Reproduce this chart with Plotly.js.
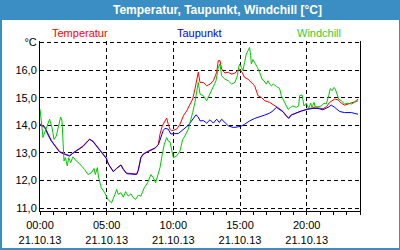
<!DOCTYPE html>
<html><head><meta charset="utf-8">
<script src="https://cdn.plot.ly/plotly-3.0.1.min.js"></script>
<style>html,body{margin:0;padding:0;background:#fff;}#chart{width:400px;height:250px;}</style>
</head><body><div id="chart"></div>
<script>
// Temperatur (red)
var tTemp = [0.0,0.35,0.85,1.22,1.47,1.85,2.22,2.47,2.85,3.22,3.6,3.72,3.97,4.22,4.6,4.97,5.13,5.5,5.75,6.07,6.25,6.5,7.25,7.37,7.57,7.75,8.12,8.62,8.87,9.0,9.17,9.33,9.5,9.62,9.75,9.87,10.07,10.25,10.5,10.75,11.0,11.25,11.45,11.62,11.8,11.87,12.0,12.25,12.5,12.75,13.0,13.25,13.37,13.5,13.62,13.87,14.12,14.37,14.62,14.87,14.97,15.15,15.35,15.6,15.8,15.97,16.1,16.35,16.6,16.85,17.22,17.47,17.65,17.8,17.97,18.22,18.47,18.65,18.85,19.22,19.6,20.1,20.47,20.7,20.85,21.22,21.5,21.72,22.1,22.35,22.6,22.85,23.1,23.35,23.6,23.85];
var vTemp = [14.05,13.95,13.45,13.2,13.05,12.97,12.9,13.0,13.12,13.25,13.45,13.5,13.43,13.28,13.04,12.82,12.6,12.33,12.45,12.57,12.42,12.27,12.24,12.38,12.85,12.97,13.07,13.18,13.3,13.68,13.98,14.1,14.26,14.04,13.86,13.8,13.82,13.86,14.04,14.34,14.52,14.77,14.95,15.31,15.79,15.92,15.55,15.55,15.43,15.49,15.61,15.92,16.34,16.34,16.04,15.89,15.92,15.85,15.89,16.01,16.04,15.92,15.73,15.67,15.55,15.49,15.43,15.07,15.01,14.89,14.83,14.74,14.7,14.65,14.6,14.5,14.35,14.26,14.38,14.45,14.53,14.6,14.63,14.67,14.63,14.6,14.68,14.83,14.95,14.92,14.8,14.73,14.77,14.8,14.85,14.95];
// Taupunkt (blue)
var tDew = [0.0,0.35,0.6,0.85,1.22,1.47,1.85,2.22,2.47,2.85,3.22,3.6,3.72,3.97,4.22,4.6,4.97,5.13,5.5,5.75,6.07,6.25,6.5,7.25,7.37,7.57,7.75,8.12,8.62,8.87,9.07,9.25,9.37,9.62,9.82,10.0,10.37,10.75,11.12,11.37,11.7,11.87,12.0,12.25,12.5,12.75,13.0,13.25,13.45,13.62,13.87,14.12,14.5,14.87,15.05,15.35,15.72,16.1,16.47,16.85,17.22,17.47,17.72,17.97,18.22,18.47,18.65,18.85,19.22,19.6,20.1,20.47,20.85,21.22,21.6,21.85,22.1,22.47,22.85,23.35,23.85];
var vDew = [14.02,13.92,13.65,13.43,13.19,13.03,12.95,12.89,12.99,13.11,13.23,13.43,13.49,13.41,13.25,13.01,12.8,12.6,12.32,12.44,12.56,12.4,12.25,12.22,12.37,12.83,12.95,13.05,13.17,13.29,13.56,13.82,13.89,13.86,13.68,13.7,13.7,13.86,14.0,14.16,14.38,14.3,14.16,14.17,14.08,14.2,14.08,14.22,14.1,14.22,14.08,13.98,13.92,13.94,13.96,14.04,14.16,14.25,14.3,14.37,14.44,14.52,14.65,14.58,14.49,14.34,14.25,14.37,14.44,14.52,14.58,14.61,14.61,14.56,14.65,14.73,14.65,14.5,14.46,14.46,14.4];
// Windchill (green)
var tWind = [0.0,0.05,0.15,0.22,0.4,0.55,0.72,0.9,1.05,1.22,1.4,1.55,1.65,1.72,1.8,1.9,2.05,2.15,2.3,2.47,2.72,2.97,3.35,3.6,3.85,4.05,4.15,4.3,4.4,4.6,4.85,5.12,5.37,5.62,5.75,5.87,6.07,6.25,6.42,6.62,6.82,7.0,7.17,7.37,7.57,7.82,8.07,8.32,8.5,8.67,8.82,9.0,9.17,9.32,9.5,9.62,9.75,9.87,10.0,10.25,10.5,10.7,10.87,11.12,11.3,11.45,11.62,11.75,11.87,12.0,12.25,12.5,12.62,12.87,13.0,13.2,13.37,13.5,13.62,13.87,14.12,14.37,14.62,14.8,14.9,14.97,15.1,15.22,15.35,15.47,15.6,15.72,15.8,15.85,15.97,16.1,16.3,16.47,16.65,16.8,16.97,17.1,17.22,17.35,17.5,17.72,17.97,18.1,18.3,18.47,18.6,18.8,18.97,19.22,19.4,19.47,19.65,19.8,19.97,20.15,20.3,20.4,20.55,20.65,20.85,21.1,21.3,21.47,21.65,21.77,21.9,22.05,22.15,22.3,22.4,22.6,22.85,23.1,23.35,23.6,23.85];
var vWind = [14.58,14.4,13.92,13.56,13.8,14.04,14.22,13.92,13.49,13.61,13.98,14.3,14.16,13.43,12.71,12.83,12.53,12.83,12.65,12.86,12.71,12.61,12.4,12.22,12.28,12.44,12.22,12.47,12.1,11.74,11.56,11.3,11.2,11.5,11.68,11.5,11.56,11.4,11.6,11.44,11.52,11.38,11.32,11.47,11.44,11.74,11.92,12.22,12.1,11.92,12.22,12.47,12.95,13.31,13.56,13.43,13.4,13.1,12.83,12.89,13.07,13.49,13.61,13.86,14.16,14.46,14.83,15.25,15.55,15.13,15.07,14.89,15.01,15.25,15.37,15.61,16.1,16.22,15.79,15.67,15.61,15.49,15.55,15.79,16.1,16.22,16.1,15.98,16.28,16.58,16.7,16.82,16.52,16.22,16.38,16.28,16.1,15.92,15.67,15.61,15.49,15.61,15.49,15.43,15.49,15.41,15.33,15.07,14.89,14.7,14.58,14.65,14.7,14.65,14.7,15.07,15.1,14.7,14.8,14.61,14.8,14.65,14.83,14.65,14.68,14.7,14.8,14.77,15.07,15.33,15.25,15.37,15.31,15.07,14.95,14.89,14.77,14.8,14.77,14.83,14.89];

var xTickVals = [0,5,10,15,20];
var xTickText = ['00:00<br>21.10.13','05:00<br>21.10.13','10:00<br>21.10.13','15:00<br>21.10.13','20:00<br>21.10.13'];
var yTickVals = [11,12,13,14,15,16,17];
var yTickText = ['11,0','12,0','13,0','14,0','15,0','16,0','°C'];
var seriesNames = ['Temperatur','Taupunkt','Windchill'];
var seriesColors = ['#ff0000','#0000ff','#00c800'];
var chartTitle = 'Temperatur, Taupunkt, Windchill [°C]';

var frameBlue = '#3b8ec4';
var FONT = 'Liberation Sans, Arial, sans-serif';

function line(t, v, i) {
  return {x: t, y: v, type: 'scatter', mode: 'lines', name: seriesNames[i],
          line: {color: seriesColors[i], width: 1}, hoverinfo: 'skip'};
}
var data = [line(tTemp, vTemp, 0), line(tDew, vDew, 1), line(tWind, vWind, 2)];

// pixel -> paper helpers (plot area 40..360 x, 41..211 y)
function px(X){ return (X-40)/320; }
function py(Y){ return (211-Y)/170; }

var layout = {
  width: 400, height: 250,
  margin: {l: 40, r: 40, t: 41, b: 39, pad: 0},
  paper_bgcolor: frameBlue,
  plot_bgcolor: '#ffffff',
  showlegend: false,
  font: {family: FONT, size: 11, color: '#000'},
  xaxis: {
    range: [0, 24], tickvals: xTickVals, ticktext: xTickText,
    showgrid: true, gridcolor: '#000', gridwidth: 1, griddash: '4px,3px',
    showline: true, linecolor: '#000', linewidth: 1, mirror: false,
    ticks: 'outside', ticklen: 3, tickcolor: '#000', ticklabelstandoff: 1,
    minor: {dtick: 1, tick0: 0, ticks: 'outside', ticklen: 3, tickcolor: '#000', showgrid: false},
    zeroline: false, fixedrange: true,
    tickfont: {family: FONT, size: 11, color: '#000'}
  },
  yaxis: {
    range: [10.9, 17.05], tickvals: yTickVals, ticktext: yTickText,
    showgrid: true, gridcolor: '#000', gridwidth: 1, griddash: '4px,3px',
    showline: true, linecolor: '#000', linewidth: 1, mirror: true,
    ticks: '', zeroline: false, fixedrange: true,
    tickfont: {family: FONT, size: 11, color: '#000'}
  },
  shapes: [
    {type: 'rect', xref: 'paper', yref: 'paper', layer: 'below',
     x0: px(2), x1: px(399), y0: py(248), y1: py(20),
     fillcolor: '#ffffff', line: {width: 0}}
  ],
  annotations: [
    {text: '<b>' + chartTitle + '</b>', xref: 'paper', yref: 'paper', x: px(217), y: py(10),
     xanchor: 'center', yanchor: 'middle', showarrow: false,
     font: {family: FONT, size: 12, color: '#ffffff'}},
    {text: seriesNames[0], xref: 'paper', yref: 'paper', x: px(80), y: py(33),
     xanchor: 'center', yanchor: 'middle', showarrow: false, font: {family: FONT, size: 11, color: seriesColors[0]}},
    {text: seriesNames[1], xref: 'paper', yref: 'paper', x: px(199), y: py(33),
     xanchor: 'center', yanchor: 'middle', showarrow: false, font: {family: FONT, size: 11, color: seriesColors[1]}},
    {text: seriesNames[2], xref: 'paper', yref: 'paper', x: px(319), y: py(33),
     xanchor: 'center', yanchor: 'middle', showarrow: false, font: {family: FONT, size: 11, color: '#33cc33'}}
  ]
};
Plotly.newPlot('chart', data, layout, {displayModeBar: false, staticPlot: true});
</script></body></html>
